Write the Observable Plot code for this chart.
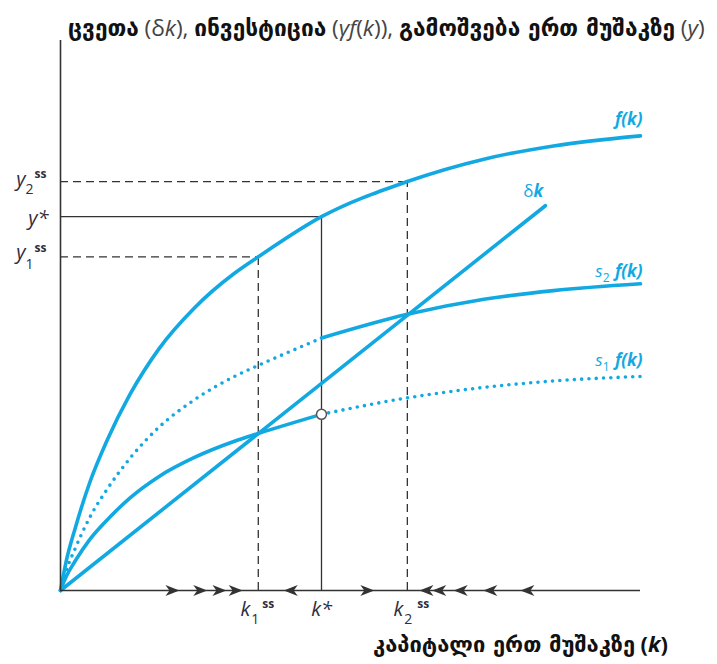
<!DOCTYPE html>
<html><head><meta charset="utf-8">
<script src="https://cdn.jsdelivr.net/npm/d3@7"></script>
<script src="https://cdn.jsdelivr.net/npm/@observablehq/plot@0.6"></script>
<style>
body{margin:0;background:#fff;}
#wrap{position:relative;width:717px;height:664px;overflow:hidden;}
#wrap svg{position:absolute;left:0;top:0;}
.lbl{position:absolute;white-space:nowrap;line-height:24px;font-size:15px;color:#111;}
.ka{font-family:"DejaVu Sans";font-weight:bold;}
.lat{font-family:"Open Sans";color:#444;}
#title{left:68px;top:16px;}
#xlab{left:373px;top:632px;}
</style></head>
<body><div id="wrap">
<div id="title" class="lbl"><span class="ka">ცვეთა</span> <span class="lat">(δ<i>k</i>),</span> <span class="ka">ინვესტიცია</span> <span class="lat">(<i>γf</i>(<i>k</i>)),</span> <span class="ka">გამოშვება ერთ მუშაკზე</span> <span class="lat">(<i>y</i>)</span></div>
<div id="xlab" class="lbl"><span class="ka">კაპიტალი ერთ მუშაკზე</span> <span class="lat" style="font-weight:bold;color:#111">(<i>k</i>)</span></div>
</div>
<script>
// capital per worker grid and curve values
const k    = [0, 0.1, 0.25, 0.5, 0.8, 1.2, 1.7, 2.3, 3.0, 3.41, 4.5, 5.98, 7.3, 8.5, 10];
const fk   = [0, 0.65, 1.35, 2.35, 3.28, 4.30, 5.30, 6.18, 6.95, 7.31, 8.19, 8.96, 9.45, 9.74, 9.96];
const s2fk = [0, 0.44, 0.91, 1.59, 2.21, 2.90, 3.58, 4.17, 4.69, 4.93, 5.53, 6.05, 6.38, 6.57, 6.72];
const s1fk = [0, 0.31, 0.64, 1.11, 1.54, 2.03, 2.50, 2.91, 3.27, 3.44, 3.86, 4.22, 4.45, 4.59, 4.69];
// depreciation line δk
const depK = [0, 8.36];
const depY = [0, 8.43];
// steady states: k1ss, k*, k2ss and y1ss, y*, y2ss
const k1ss = 3.41, kStar = 4.5, k2ss = 5.98;
const y1ss = 7.31, yStar = 8.19, y2ss = 8.96;
// arrows of motion on the k axis
const arrowsRight = [1.93, 2.41, 2.74, 3.02, 5.29];
const arrowsLeft  = [3.97, 6.31, 6.53, 6.9, 7.41, 8.05];

const blue = "#12a9e2", ink = "#333";
const curve = k.map((kk, i) => ({k: kk, f: fk[i], s2: s2fk[i], s1: s1fk[i]}));
const dep = depK.map((kk, i) => ({k: kk, y: depY[i]}));
const dashedSS = [{k: k1ss, y: y1ss}, {k: k2ss, y: y2ss}];
const solidSS = [{k: kStar, y: yStar}];
const s1AtStar = s1fk[k.indexOf(kStar)];

const arrowR = {draw(c){c.moveTo(7,0);c.lineTo(-7,-5.5);c.lineTo(-3,0);c.lineTo(-7,5.5);c.closePath();}};
const arrowL = {draw(c){c.moveTo(-7,0);c.lineTo(7,-5.5);c.lineTo(3,0);c.lineTo(7,5.5);c.closePath();}};

const latin = "Open Sans";
function lab(x, y, text, o) {
  return Plot.text([text], {x: [x], y: [y], text: d => d, fontFamily: latin, lineAnchor: "bottom", ...o});
}
const tc = "#2e2e3e";
const tickStyle = {fill: tc, fontStyle: "italic"};
const curveStyle = {fill: blue, fontStyle: "italic", fontWeight: "bold"};
const dotted = {strokeDasharray: "0 7.3", strokeLinecap: "round"};
const cv = "monotone-x";

const chart = Plot.plot({
  width: 717, height: 664,
  marginLeft: 60, marginRight: 77, marginTop: 40, marginBottom: 74,
  x: {domain: [0, 10], axis: null},
  y: {domain: [0, 12.05], axis: null},
  style: {background: "transparent"},
  marks: [
    Plot.ruleY(dashedSS, {y: "y", x1: 0, x2: "k", stroke: ink, strokeWidth: 1.3, strokeDasharray: "8 5"}),
    Plot.ruleX(dashedSS, {x: "k", y1: 0, y2: "y", stroke: ink, strokeWidth: 1.3, strokeDasharray: "8 5"}),
    Plot.ruleY(solidSS, {y: "y", x1: 0, x2: "k", stroke: ink, strokeWidth: 1.3}),
    Plot.ruleX(solidSS, {x: "k", y1: 0, y2: "y", stroke: ink, strokeWidth: 1.3}),
    Plot.line(curve, {x: "k", y: "f", curve: cv, stroke: blue, strokeWidth: 3.6}),
    Plot.line(curve.filter(d => d.k <= kStar), {x: "k", y: "s2", curve: cv, stroke: blue, strokeWidth: 3.6, ...dotted}),
    Plot.line(curve.filter(d => d.k >= kStar), {x: "k", y: "s2", curve: cv, stroke: blue, strokeWidth: 3.6}),
    Plot.line(curve.filter(d => d.k <= kStar), {x: "k", y: "s1", curve: cv, stroke: blue, strokeWidth: 3.6}),
    Plot.line(curve.filter(d => d.k >= kStar), {x: "k", y: "s1", curve: cv, stroke: blue, strokeWidth: 3.6, ...dotted}),
    Plot.line(dep, {x: "k", y: "y", stroke: blue, strokeWidth: 3.6}),
    Plot.ruleX([0], {stroke: ink, strokeWidth: 1.6}),
    Plot.ruleY([0], {stroke: ink, strokeWidth: 1.6}),
    Plot.dot(arrowsRight, {x: d => d, y: () => 0, symbol: arrowR, fill: ink, stroke: "none"}),
    Plot.dot(arrowsLeft, {x: d => d, y: () => 0, symbol: arrowL, fill: ink, stroke: "none"}),
    Plot.dot([{k: kStar, y: s1AtStar}], {x: "k", y: "y", r: 5, fill: "white", stroke: "#555", strokeWidth: 1.5}),
    // y tick labels
    lab(0, y2ss, "y", {...tickStyle, fontSize: 20, textAnchor: "end", dx: -35, dy: 4}),
    lab(0, y2ss, "2", {fill: tc, fontSize: 14, textAnchor: "start", dx: -35, dy: 12}),
    lab(0, y2ss, "ss", {fill: tc, fontSize: 12, fontWeight: "bold", textAnchor: "start", dx: -26, dy: -4}),
    lab(0, yStar, "y*", {...tickStyle, fontSize: 20, textAnchor: "end", dx: -12, dy: 8}),
    lab(0, y1ss, "y", {...tickStyle, fontSize: 20, textAnchor: "end", dx: -35, dy: 2}),
    lab(0, y1ss, "1", {fill: tc, fontSize: 14, textAnchor: "start", dx: -35, dy: 12}),
    lab(0, y1ss, "ss", {fill: tc, fontSize: 12, fontWeight: "bold", textAnchor: "start", dx: -26, dy: -5}),
    // k tick labels
    lab(k1ss, 0, "k", {...tickStyle, fontSize: 20, textAnchor: "end", dx: -8, dy: 25}),
    lab(k1ss, 0, "1", {fill: tc, fontSize: 14, textAnchor: "start", dx: -7, dy: 33}),
    lab(k1ss, 0, "ss", {fill: tc, fontSize: 12, fontWeight: "bold", textAnchor: "start", dx: 4, dy: 17}),
    lab(kStar, 0, "k*", {...tickStyle, fontSize: 20, textAnchor: "middle", dx: 0, dy: 25}),
    lab(k2ss, 0, "k", {...tickStyle, fontSize: 20, textAnchor: "end", dx: -4, dy: 25}),
    lab(k2ss, 0, "2", {fill: tc, fontSize: 14, textAnchor: "start", dx: -3, dy: 33}),
    lab(k2ss, 0, "ss", {fill: tc, fontSize: 12, fontWeight: "bold", textAnchor: "start", dx: 10, dy: 17}),
    // curve labels
    lab(k[k.length-1], fk[fk.length-1], "f(k)", {...curveStyle, fontSize: 17, textAnchor: "end", dx: 2, dy: -11}),
    lab(k[k.length-1], s2fk[s2fk.length-1], "f(k)", {...curveStyle, fontSize: 17, textAnchor: "end", dx: 2, dy: -7}),
    lab(k[k.length-1], s2fk[s2fk.length-1], "2", {fill: blue, fontSize: 12, textAnchor: "end", dx: -31, dy: -2}),
    lab(k[k.length-1], s2fk[s2fk.length-1], "s", {fill: blue, fontStyle: "italic", fontSize: 17, textAnchor: "end", dx: -38, dy: -7}),
    lab(k[k.length-1], s1fk[s1fk.length-1], "f(k)", {...curveStyle, fontSize: 17, textAnchor: "end", dx: 2, dy: -10}),
    lab(k[k.length-1], s1fk[s1fk.length-1], "1", {fill: blue, fontSize: 12, textAnchor: "end", dx: -31, dy: -5}),
    lab(k[k.length-1], s1fk[s1fk.length-1], "s", {fill: blue, fontStyle: "italic", fontSize: 17, textAnchor: "end", dx: -38, dy: -10}),
    lab(depK[1], depY[1], "δ", {fill: blue, fontSize: 17, textAnchor: "end", dx: -12, dy: -9}),
    lab(depK[1], depY[1], "k", {...curveStyle, fontSize: 17, textAnchor: "start", dx: -12, dy: -9})
  ]
});
document.getElementById("wrap").prepend(chart);

// scale the HTML titles to the width they occupy in the reference
function fitWidth(id, target) {
  const el = document.getElementById(id);
  const w = el.getBoundingClientRect().width;
  el.style.fontSize = (15 * target / w).toFixed(2) + "px";
}
fitWidth("title", 637);
fitWidth("xlab", 295);
</script>
</body></html>
